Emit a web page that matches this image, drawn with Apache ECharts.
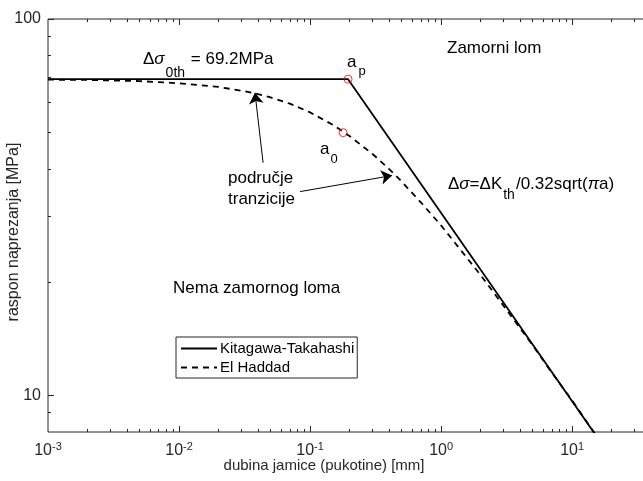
<!DOCTYPE html>
<html>
<head>
<meta charset="utf-8">
<script src="https://cdn.jsdelivr.net/npm/echarts@6/dist/echarts.min.js"></script>
<style>
  html, body { margin: 0; padding: 0; background: #fff; }
  #chart { width: 643px; height: 481px; }
</style>
</head>
<body>
<div id="chart"></div>
<script>
// Kitagawa-Takahashi: prag do a_p pa nagib -1/2
const ktA = [0.001, 0.195, 20]
const ktS = [69.2, 69.2, 6.83]

// El Haddad krivulja (očitano sa slike)
const haddadA = [0.001, 0.002, 0.005, 0.01, 0.02, 0.03, 0.04, 0.05, 0.07, 0.1, 0.15, 0.2, 0.3, 0.4, 0.5, 0.7, 1, 1.5, 2, 3, 4, 5, 7, 10, 15, 20]
const haddadS = [69.0, 68.9, 68.4, 67.5, 66.0, 64.5, 63.2, 61.9, 59.6, 56.5, 52.3, 48.9, 43.8, 40.0, 37.0, 32.6, 28.3, 23.7, 20.9, 17.3, 15.1, 13.6, 11.5, 9.7, 7.9, 6.9]

// točke a_p i a_0
const markA = [0.195, 0.179]
const markS = [69.2, 49.9]

// strelice "područje tranzicije" (početak -> vrh)
const arrowFrom = [[0.0438, 41.5], [0.084, 34.8]]
const arrowTo = [[0.038, 63.7], [0.423, 38.4]]

// osi
const xMin = 0.001
const xMax = 40
const yMin = 8
const yMax = 100
const xMajorTicks = [0.01, 0.1, 1, 10]
const yMajorTicks = [10, 100]
const yMinorTicks = [9, 20, 30, 40, 50, 60, 70, 80, 90]
const xMinorTicks = []
for (const d of [0.001, 0.01, 0.1, 1, 10]) {
  for (let k = 2; k <= 9; k++) {
    const v = +(k * d).toPrecision(3)
    if (v <= xMax) xMinorTicks.push(v)
  }
}

const FONT = '"Liberation Sans", Arial, Helvetica, sans-serif'
const AXC = '#262626'

// grid u pikselima (isto kao grid niže)
const GRID = { left: 48, right: -8, top: 19, bottom: 49 }
const plotW = 643 - GRID.left - GRID.right
const plotH = 481 - GRID.top - GRID.bottom
const xDecadePx = plotW / Math.log10(xMax / xMin)
const yDecadePx = plotH / Math.log10(yMax / yMin)

// crtice na osima kao markLine segmenti (duljina u px -> faktor na log osi)
const EPS = 1.0002
const tickLines = []
function xTicks (values, len) {
  const f = Math.pow(10, len / yDecadePx)
  values.forEach(v => {
    tickLines.push([{ coord: [v, yMin * EPS] }, { coord: [v, yMin * EPS * f] }])
    tickLines.push([{ coord: [v, yMax / EPS] }, { coord: [v, yMax / EPS / f] }])
  })
}
function yTicks (values, len) {
  const f = Math.pow(10, len / xDecadePx)
  values.forEach(v => {
    tickLines.push([{ coord: [xMin * EPS, v] }, { coord: [xMin * EPS * f, v] }])
  })
}
xTicks(xMajorTicks, 6)
xTicks(xMinorTicks, 3)
yTicks(yMajorTicks, 6)
yTicks(yMinorTicks, 3)

const texts = [
  {
    type: 'text', x: 324, y: 466,
    style: { text: 'dubina jamice (pukotine) [mm]', fill: AXC, font: '15px ' + FONT, align: 'center', verticalAlign: 'middle' }
  },
  {
    type: 'text', x: 14, y: 232, rotation: Math.PI / 2,
    style: { text: 'raspon naprezanja [MPa]', fill: AXC, font: '16px ' + FONT, align: 'center', verticalAlign: 'middle' }
  },
  {
    type: 'text', x: 143, y: 51,
    style: {
      text: '{n|Δ}{i|σ}{s|0th}{n| = 69.2MPa}',
      verticalAlign: 'top',
      rich: {
        n: { fontSize: 17, lineHeight: 20, verticalAlign: 'top', fill: '#000', fontFamily: FONT },
        i: { fontSize: 17, lineHeight: 20, verticalAlign: 'top', fontStyle: 'italic', fill: '#000', fontFamily: FONT },
        s: { fontSize: 14, lineHeight: 15, padding: [15, 1, 0, 1], verticalAlign: 'top', fill: '#000', fontFamily: FONT }
      }
    }
  },
  {
    type: 'text', x: 447, y: 48,
    style: { text: 'Zamorni lom', fill: '#000', font: '17px ' + FONT, verticalAlign: 'middle' }
  },
  {
    type: 'text', x: 347, y: 54,
    style: {
      text: '{n|a}{s|p}',
      verticalAlign: 'top',
      rich: {
        n: { fontSize: 17, lineHeight: 20, verticalAlign: 'top', fill: '#000', fontFamily: FONT },
        s: { fontSize: 13, lineHeight: 14, padding: [11, 0, 0, 2], verticalAlign: 'top', fill: '#000', fontFamily: FONT }
      }
    }
  },
  {
    type: 'text', x: 320, y: 141,
    style: {
      text: '{n|a}{s|0}',
      verticalAlign: 'top',
      rich: {
        n: { fontSize: 17, lineHeight: 20, verticalAlign: 'top', fill: '#000', fontFamily: FONT },
        s: { fontSize: 13, lineHeight: 14, padding: [12, 0, 0, 1], verticalAlign: 'top', fill: '#000', fontFamily: FONT }
      }
    }
  },
  {
    type: 'text', x: 228, y: 168,
    style: { text: 'područje\ntranzicije', fill: '#000', font: '17px ' + FONT, lineHeight: 21, verticalAlign: 'top' }
  },
  {
    type: 'text', x: 173, y: 288,
    style: { text: 'Nema zamornog loma', fill: '#000', font: '17px ' + FONT, verticalAlign: 'middle' }
  },
  {
    type: 'text', x: 448, y: 176,
    style: {
      text: '{n|Δ}{i|σ}{n|=ΔK}{s|th}{n|/0.32sqrt(}{i|π}{n|a)}',
      verticalAlign: 'top',
      rich: {
        n: { fontSize: 17, lineHeight: 20, verticalAlign: 'top', fill: '#000', fontFamily: FONT },
        i: { fontSize: 17, lineHeight: 20, verticalAlign: 'top', fontStyle: 'italic', fill: '#000', fontFamily: FONT },
        s: { fontSize: 14, lineHeight: 15, padding: [12, 1, 0, 1], verticalAlign: 'top', fill: '#000', fontFamily: FONT }
      }
    }
  }
]

const chart = echarts.init(document.getElementById('chart'))

chart.setOption({
  animation: false,
  backgroundColor: '#fff',
  textStyle: { fontFamily: FONT },
  grid: {
    left: GRID.left,
    right: GRID.right,
    top: GRID.top,
    bottom: GRID.bottom,
    show: true,
    borderColor: AXC,
    borderWidth: 1,
    backgroundColor: 'transparent',
    outerBoundsMode: 'none'
  },
  legend: {
    data: ['Kitagawa-Takahashi', 'El Haddad'],
    orient: 'vertical',
    left: 176,
    top: 337,
    itemWidth: 36,
    itemHeight: 14,
    itemGap: 4,
    padding: [4, 3, 3, 4],
    borderColor: AXC,
    borderWidth: 1,
    borderRadius: 0,
    backgroundColor: '#fff',
    selectedMode: false,
    itemStyle: { opacity: 0 },
    lineStyle: { opacity: 1 },
    textStyle: { fontSize: 15, color: '#000', fontFamily: FONT, padding: [0, 0, 0, -2] }
  },
  xAxis: {
    type: 'log',
    min: xMin,
    max: xMax,
    axisLine: { show: false },
    axisTick: { show: false },
    splitLine: { show: false },
    axisLabel: {
      margin: 9,
      color: AXC,
      formatter: function (v) {
        const e = Math.round(Math.log10(v))
        if (Math.abs(Math.log10(v) - e) > 1e-6) return ''
        return '{b|10}{s|' + e + '}'
      },
      rich: {
        b: { fontSize: 16, lineHeight: 18, verticalAlign: 'bottom', color: AXC, fontFamily: FONT },
        s: { fontSize: 11, lineHeight: 12, padding: [0, 0, 10, 0], verticalAlign: 'top', color: AXC, fontFamily: FONT }
      }
    }
  },
  yAxis: {
    type: 'log',
    min: yMin,
    max: yMax,
    axisLine: { show: false },
    axisTick: { show: false },
    splitLine: { show: false },
    axisLabel: {
      margin: 7,
      color: AXC,
      fontSize: 16,
      fontFamily: FONT,
      formatter: function (v) {
        return yMajorTicks.some(t => Math.abs(t - v) < 1e-6) ? String(Math.round(v)) : ''
      }
    }
  },
  series: [
    {
      name: 'Kitagawa-Takahashi',
      type: 'line',
      data: ktA.map((a, i) => [a, ktS[i]]),
      showSymbol: false,
      symbol: 'none',
      lineStyle: { color: '#000', width: 1.8 },
      itemStyle: { color: '#000' },
      z: 3,
      markLine: {
        silent: true,
        symbol: ['none', 'arrow'],
        symbolSize: 11,
        label: { show: false },
        lineStyle: { color: '#000', width: 1, type: 'solid' },
        data: arrowFrom.map((p, i) => [{ coord: p }, { coord: arrowTo[i] }])
      }
    },
    {
      name: 'El Haddad',
      type: 'line',
      data: haddadA.map((a, i) => [a, haddadS[i]]),
      showSymbol: false,
      symbol: 'none',
      lineStyle: { color: '#000', width: 1.8, type: [6, 5] },
      itemStyle: { color: '#000' },
      z: 3,
      markLine: {
        silent: true,
        symbol: 'none',
        label: { show: false },
        emphasis: { disabled: true },
        lineStyle: { color: AXC, width: 1, type: 'solid', opacity: 1 },
        data: tickLines
      }
    },
    {
      name: 'tocke',
      type: 'scatter',
      data: markA.map((a, i) => [a, markS[i]]),
      symbol: 'circle',
      symbolSize: 8,
      itemStyle: { color: 'rgba(0,0,0,0)', borderColor: '#ff0000', borderWidth: 1 },
      silent: true,
      z: 6
    }
  ],
  graphic: texts
})
</script>
</body>
</html>
